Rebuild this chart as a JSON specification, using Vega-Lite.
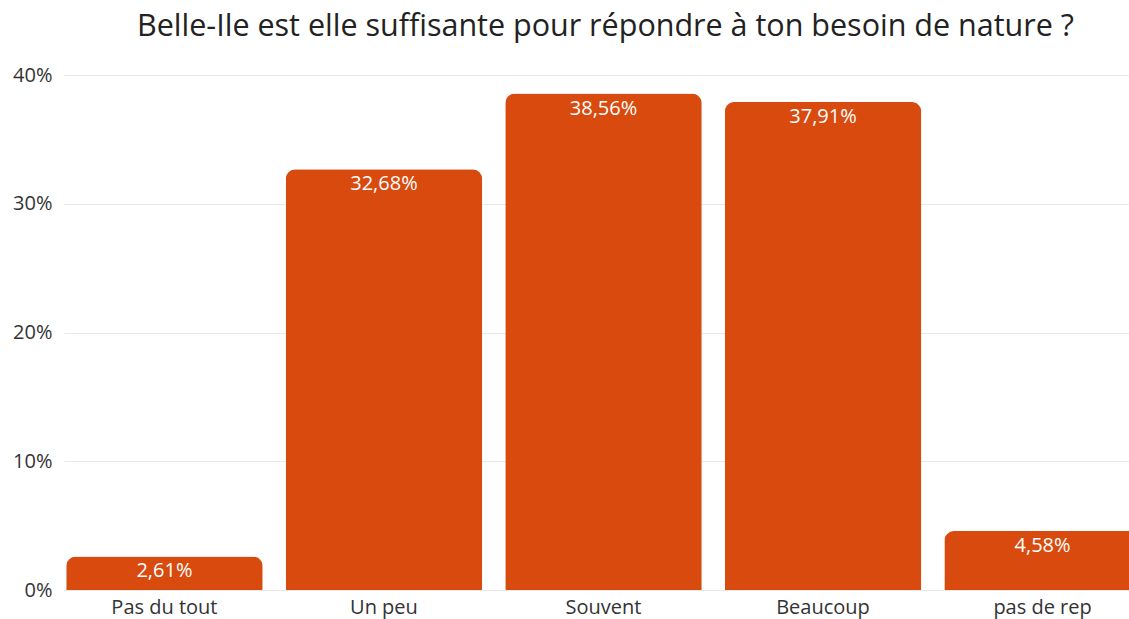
{
  "$schema": "https://vega.github.io/schema/vega-lite/v6.json",
  "autosize": "none",
  "width": 1079,
  "height": 515,
  "padding": {"left": 64, "top": 75, "right": 0, "bottom": 29},
  "background": "white",
  "config": {
    "font": "Open Sans",
    "view": {"stroke": null},
    "locale": {"number": {"decimal": ",", "thousands": " ", "grouping": [3], "currency": ["", " €"]}}
  },
  "title": {
    "text": "Belle-Ile est elle suffisante pour répondre à ton besoin de nature ?",
    "fontSize": 30.5,
    "fontWeight": "normal",
    "color": "#222222",
    "anchor": "start",
    "frame": "group",
    "offset": 23,
    "dx": 73
  },
  "data": {
    "values": [
      {"reponse": "Pas du tout", "part": 0.0261},
      {"reponse": "Un peu", "part": 0.3268},
      {"reponse": "Souvent", "part": 0.3856},
      {"reponse": "Beaucoup", "part": 0.3791},
      {"reponse": "pas de rep", "part": 0.0458}
    ]
  },
  "encoding": {
    "x": {
      "field": "reponse",
      "type": "nominal",
      "sort": null,
      "title": null,
      "scale": {"paddingInner": 0.105, "paddingOuter": 0.01},
      "axis": {
        "labelAngle": 0,
        "labelFontSize": 20,
        "labelColor": "#333333",
        "labelPadding": 7,
        "ticks": false,
        "domain": false
      }
    },
    "y": {
      "field": "part",
      "type": "quantitative",
      "title": null,
      "scale": {"domain": [0, 0.4], "nice": false},
      "axis": {
        "format": ".0%",
        "values": [0, 0.1, 0.2, 0.3, 0.4],
        "labelFontSize": 20,
        "labelColor": "#333333",
        "labelPadding": 12,
        "ticks": false,
        "domain": false,
        "gridColor": "#e8e8e8",
        "gridWidth": 1
      }
    }
  },
  "layer": [
    {
      "mark": {"type": "bar", "color": "#d84a0e", "cornerRadiusTopLeft": 10, "cornerRadiusTopRight": 10}
    },
    {
      "mark": {"type": "text", "color": "white", "fontSize": 20, "baseline": "top", "dy": 5},
      "encoding": {
        "text": {"field": "part", "type": "quantitative", "format": ".2%"}
      }
    },
    {
      "mark": {"type": "rule", "color": "#d0d0d0"},
      "encoding": {"y": {"datum": 0}}
    }
  ]
}
